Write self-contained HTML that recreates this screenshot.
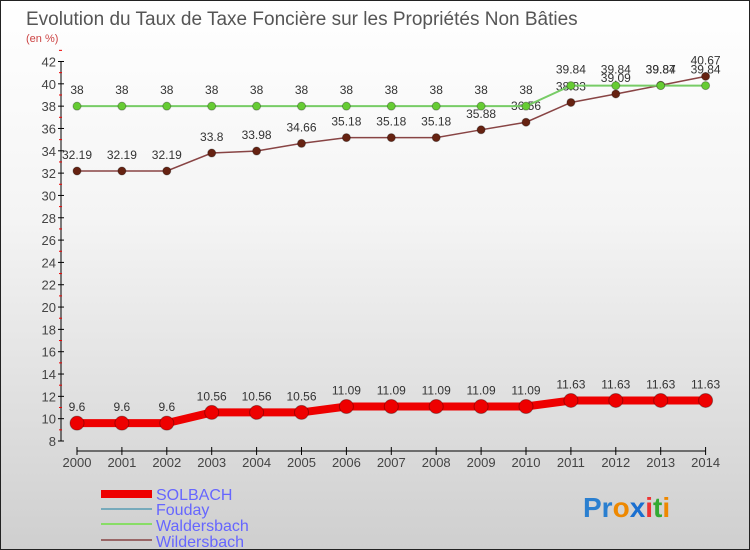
<!DOCTYPE html>
<html><head><meta charset="utf-8"><style>
body{margin:0}
#c{width:748px;height:548px;border:1px solid #222;background:linear-gradient(#fff 0%,#f4f4f4 40%,#cfcfcf 100%);position:relative;overflow:hidden;font-family:"Liberation Sans",sans-serif}
</style></head><body>
<div id="c">
<svg id="s" width="748" height="548" xmlns="http://www.w3.org/2000/svg" style="position:absolute;left:0;top:0">
<text x="25" y="24" font-size="19" fill="#555">Evolution du Taux de Taxe Foncière sur les Propriétés Non Bâties</text>
<text x="25" y="41" font-size="11" fill="#c44">(en %)</text>
<g id="axes"></g><g id="series"></g>
<g>
<rect x="100" y="489" width="51" height="8" fill="#e00"/>
<text x="155" y="499" font-size="16" fill="#66f">SOLBACH</text>
<rect x="100" y="507" width="51" height="2" fill="#7ab"/>
<text x="155" y="514" font-size="16" fill="#66f">Fouday</text>
<rect x="100" y="522" width="51" height="2" fill="#8d6"/>
<text x="155" y="530" font-size="16" fill="#66f">Waldersbach</text>
<rect x="100" y="538" width="51" height="2" fill="#966"/>
<text x="155" y="546" font-size="16" fill="#66f">Wildersbach</text>
</g>
<text x="582" y="516" font-size="28" font-weight="bold"><tspan fill="#2a7fd0">Pr</tspan><tspan fill="#e80">o</tspan><tspan fill="#1a6fd0">x</tspan><tspan fill="#e33">i</tspan><tspan fill="#3a3">t</tspan><tspan fill="#e80">i</tspan></text>
</svg>
</div>
<script>
const years=[2000,2001,2002,2003,2004,2005,2006,2007,2008,2009,2010,2011,2012,2013,2014];
const solbach=[9.6,9.6,9.6,10.56,10.56,10.56,11.09,11.09,11.09,11.09,11.09,11.63,11.63,11.63,11.63];
const fouday=[9.6,9.6,9.6,10.56,10.56,10.56,11.09,11.09,11.09,11.09,11.09,11.63,11.63,11.63,11.63];
const waldersbach=[38,38,38,38,38,38,38,38,38,38,38,39.84,39.84,39.84,39.84];
const wildersbach=[32.19,32.19,32.19,33.8,33.98,34.66,35.18,35.18,35.18,35.88,36.56,38.33,39.09,39.87,40.67];
const yTicks=[8,10,12,14,16,18,20,22,24,26,28,30,32,34,36,38,40,42];
const NS="http://www.w3.org/2000/svg";
const x=i=>76+i*44.9;
const y=v=>440-(v-8)*(379.5/34);
function mk(t,a,p){const e=document.createElementNS(NS,t);for(const k in a)e.setAttribute(k,a[k]);p.appendChild(e);return e;}
const ax=document.getElementById('axes'),se=document.getElementById('series');
let l=mk('line',{x1:60,y1:y(8),x2:60,y2:y(42),stroke:'#000'},ax);


yTicks.forEach(v=>{
 mk('line',{x1:57,y1:y(v),x2:63,y2:y(v),stroke:'#000'},ax);
 mk('line',{x1:58,y1:y(v+1),x2:61,y2:y(v+1),stroke:'#e00'},ax);
 const t=mk('text',{x:55,y:y(v)+5,'font-size':13,fill:'#444','text-anchor':'end'},ax);t.textContent=v;
 
 
});
l=mk('line',{x1:x(0),y1:450,x2:x(14),y2:450,stroke:'#000'},ax);


years.forEach((yr,i)=>{
 mk('line',{x1:x(i),y1:446,x2:x(i),y2:454,stroke:'#000'},ax);
 const t=mk('text',{x:x(i),y:466,'font-size':13,fill:'#444','text-anchor':'middle'},ax);t.textContent=yr;
 
 
});
function series(d,name,color,w,r,dot,labels){
 const g=mk('g',{},se);
 
 
 mk('polyline',{points:d.map((v,i)=>x(i)+','+y(v)).join(' '),fill:'none',stroke:color,'stroke-width':w},g);
 d.forEach((v,i)=>{
  if(r){const c=mk('circle',{cx:x(i),cy:y(v),r:r,fill:dot,stroke:'rgba(0,0,0,0.3)'},g);
   
   }
  if(labels){const t=mk('text',{x:x(i),y:y(v)-12,'font-size':12,fill:'#333','text-anchor':'middle'},g);t.textContent=v;}
 });
}
series(fouday,'fouday','#7ab',2,0,null,false);
series(solbach,'solbach','#e00',8,7,'#e00',true);
series(wildersbach,'wildersbach','#844',1.5,4,'#621',true);
series(waldersbach,'waldersbach','#7c6',2,4,'#6c3',true);
</script>
</body></html>
